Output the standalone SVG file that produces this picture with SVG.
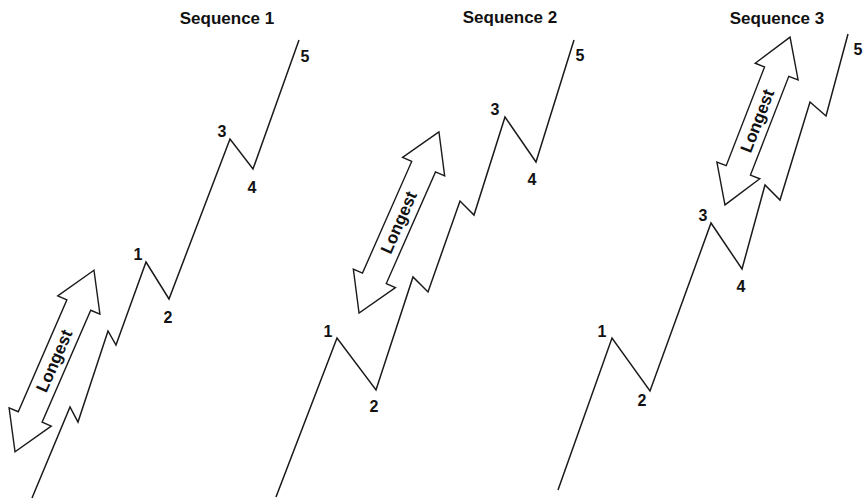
<svg xmlns="http://www.w3.org/2000/svg" width="865" height="501" viewBox="0 0 865 501">
  <style>
    .wave { fill: none; stroke: #1a1a1a; stroke-width: 1.5; stroke-linejoin: miter; }
    .arrow { fill: #ffffff; stroke: #1a1a1a; stroke-width: 1.4; stroke-linejoin: miter; }
    .title { font-family: "Liberation Sans", Arial, sans-serif; font-weight: bold; font-size: 17px; fill: #111; text-anchor: middle; }
    .lbl { font-family: "Liberation Sans", Arial, sans-serif; font-weight: bold; font-size: 16px; fill: #111; text-anchor: middle; }
    .arrtxt { font-family: "Liberation Sans", Arial, sans-serif; font-weight: bold; font-size: 17px; fill: #111; text-anchor: middle; dominant-baseline: central; }
  </style>
  <defs>
    <polygon id="dbl198" points="99,0 61,-23 61,-13 -61,-13 -61,-23 -99,0 -61,23 -61,13 61,13 61,23"/>
    <polygon id="dbl180" points="90,0 53,-23 53,-13 -53,-13 -53,-23 -90,0 -53,23 -53,13 53,13 53,23"/>
  </defs>
  <rect width="865" height="501" fill="#ffffff"/>

  <g id="connectors">
    <polyline id="wave1" class="wave" points="32,498 70,407 78,422 108,331 116,345 146,262 169,299 230,139 253,169 299,40"/>
    <polyline id="wave2" class="wave" points="276,497 337,338 376,390 413,277 428,292 460,201 474,215 505,117 536,162 574,40"/>
    <polyline id="wave3" class="wave" points="558,490 612,338 650,391 711,223 742,269 765,185 780,200 810,102 826,116 848,34"/>
  </g>

  <g id="seq1-title"><text class="title" x="227" y="24">Sequence 1</text></g>
  <g id="seq1-arrow" transform="translate(54.5,361) rotate(-66.5)">
    <use href="#dbl198" class="arrow"/>
    <text class="arrtxt" x="0" y="0">Longest</text>
  </g>
  <g id="seq1-labels">
    <text class="lbl" x="138" y="260">1</text>
    <text class="lbl" x="168" y="323">2</text>
    <text class="lbl" x="222" y="137">3</text>
    <text class="lbl" x="252" y="193">4</text>
    <text class="lbl" x="305" y="62">5</text>
  </g>

  <g id="seq2-title"><text class="title" x="510" y="23">Sequence 2</text></g>
  <g id="seq2-arrow" transform="translate(399,222.5) rotate(-66.2)">
    <use href="#dbl198" class="arrow"/>
    <text class="arrtxt" x="0" y="0">Longest</text>
  </g>
  <g id="seq2-labels">
    <text class="lbl" x="328" y="337">1</text>
    <text class="lbl" x="374" y="412">2</text>
    <text class="lbl" x="495" y="115">3</text>
    <text class="lbl" x="532" y="185">4</text>
    <text class="lbl" x="580" y="61">5</text>
  </g>

  <g id="seq3-title"><text class="title" x="777" y="24">Sequence 3</text></g>
  <g id="seq3-arrow" transform="translate(757.5,121) rotate(-68.8)">
    <use href="#dbl180" class="arrow"/>
    <text class="arrtxt" x="0" y="0">Longest</text>
  </g>
  <g id="seq3-labels">
    <text class="lbl" x="602" y="337">1</text>
    <text class="lbl" x="642" y="406">2</text>
    <text class="lbl" x="703" y="221">3</text>
    <text class="lbl" x="741" y="292">4</text>
    <text class="lbl" x="858" y="55">5</text>
  </g>
</svg>
